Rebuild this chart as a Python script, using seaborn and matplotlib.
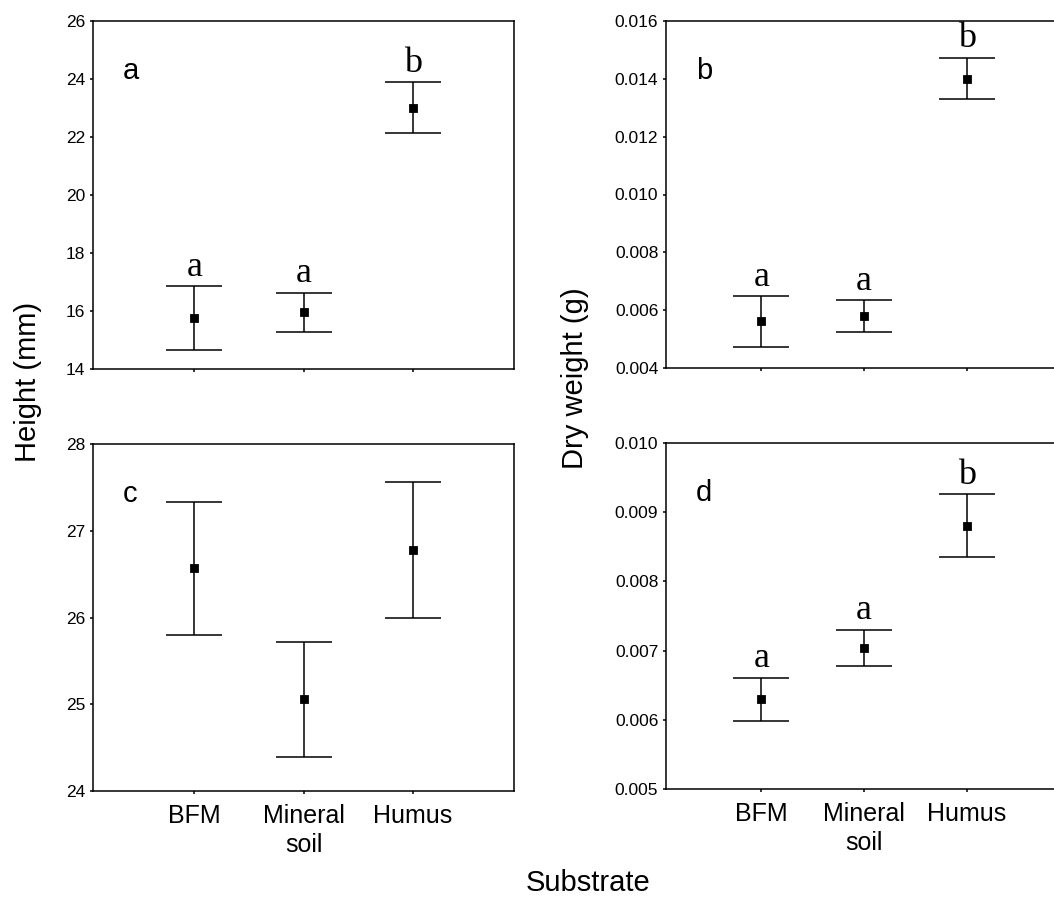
import numpy as np
import pandas as pd
import matplotlib
matplotlib.use("Agg")
import matplotlib.pyplot as plt
import seaborn as sns

# Substrate categories (x axis)
substrates = ["BFM", "Mineral\nsoil", "Humus"]

# Panel a: seedling height (mm), first census
height1_mean = [15.75, 15.96, 23.01]
height1_err = [1.10, 0.67, 0.88]
height1_groups = ["a", "a", "b"]

# Panel b: dry weight (g), first census
weight1_mean = [0.00561, 0.00580, 0.01401]
weight1_err = [0.00088, 0.00055, 0.00072]
weight1_groups = ["a", "a", "b"]

# Panel c: seedling height (mm), second census
height2_mean = [26.565, 25.055, 26.78]
height2_err = [0.765, 0.665, 0.78]
height2_groups = None

# Panel d: dry weight (g), second census
weight2_mean = [0.006295, 0.00704, 0.008805]
weight2_err = [0.000315, 0.00026, 0.000455]
weight2_groups = ["a", "a", "b"]

height1_ticks = [14, 16, 18, 20, 22, 24, 26]
weight1_ticks = [0.004, 0.006, 0.008, 0.010, 0.012, 0.014, 0.016]
height2_ticks = [24, 25, 26, 27, 28]
weight2_ticks = [0.005, 0.006, 0.007, 0.008, 0.009, 0.010]

sns.set_style("ticks")
plt.rcParams["font.family"] = ["Liberation Sans", "DejaVu Sans"]
plt.rcParams["axes.linewidth"] = 1.1
plt.rcParams["xtick.major.width"] = 1.1
plt.rcParams["ytick.major.width"] = 1.1
for key in ["text.color", "axes.labelcolor", "xtick.color", "ytick.color",
            "axes.edgecolor", "xtick.labelcolor", "ytick.labelcolor"]:
    plt.rcParams[key] = "black"

W, H = 1054, 899
fig = plt.figure(figsize=(W / 100, H / 100), dpi=100)


def px_axes(left, top, width, height):
    return fig.add_axes([left / W, 1 - (top + height) / H, width / W, height / H])


panels = [
    dict(pos=(93, 21, 421, 348), mean=height1_mean, err=height1_err,
         groups=height1_groups, ticks=height1_ticks, fmt="{:.0f}", tag="a",
         xlabels=False),
    dict(pos=(666, 21, 396, 347), mean=weight1_mean, err=weight1_err,
         groups=weight1_groups, ticks=weight1_ticks, fmt="{:.3f}", tag="b",
         xlabels=False),
    dict(pos=(93, 444, 421, 347), mean=height2_mean, err=height2_err,
         groups=height2_groups, ticks=height2_ticks, fmt="{:.0f}", tag="c",
         xlabels=True),
    dict(pos=(666, 443, 396, 346), mean=weight2_mean, err=weight2_err,
         groups=weight2_groups, ticks=weight2_ticks, fmt="{:.3f}", tag="d",
         xlabels=True),
]

for p in panels:
    ax = px_axes(*p["pos"])
    df = pd.DataFrame({"substrate": substrates, "mean": p["mean"], "err": p["err"]})
    xs = np.arange(len(substrates))

    ax.errorbar(xs, df["mean"], yerr=df["err"], fmt="none", ecolor="black",
                elinewidth=1.1, capsize=20, capthick=1.1, zorder=2)
    sns.pointplot(data=df, x="substrate", y="mean", order=substrates,
                  errorbar=None, color="black", markers="s", linestyle="none",
                  markersize=5, ax=ax, zorder=3)

    ax.set_xlim(-0.93, 2.93)
    ax.set_ylim(p["ticks"][0], p["ticks"][-1])
    ax.set_yticks(p["ticks"])
    ax.set_yticklabels([p["fmt"].format(t) for t in p["ticks"]], fontsize=12.5)
    ax.set_xticks(xs)
    if p["xlabels"]:
        ax.set_xticklabels(substrates, fontsize=18, linespacing=1.25)
    else:
        ax.set_xticklabels([])
    ax.tick_params(axis="both", direction="out", length=2.5, color="black")
    ax.tick_params(axis="x", pad=7)
    ax.tick_params(axis="y", pad=3)
    ax.set_xlabel("")
    ax.set_ylabel("")
    for side in ["top", "right", "left", "bottom"]:
        ax.spines[side].set_visible(True)
        ax.spines[side].set_color("black")

    # panel tag in the upper-left corner
    wpx = p["pos"][2]
    ax.text(30 / wpx, 0.833, p["tag"], transform=ax.transAxes,
            fontsize=21, ha="left", va="baseline")

    # homogeneous-group letters above the upper caps
    if p["groups"]:
        for x, m, e, g in zip(xs, p["mean"], p["err"], p["groups"]):
            ax.annotate(g, xy=(x, m + e), xytext=(0, 7.5),
                        textcoords="offset points", ha="center", va="baseline",
                        fontsize=26, family=["Liberation Serif", "DejaVu Serif"])

fig.text(28 / W, 1 - 382 / H, "Height (mm)", rotation=90, ha="center",
         va="center", fontsize=21)
fig.text(575 / W, 1 - 378 / H, "Dry weight (g)", rotation=90, ha="center",
         va="center", fontsize=21)
fig.text(588 / W, 1 - 883 / H, "Substrate", ha="center", va="center",
         fontsize=21)

fig.savefig("out.png", dpi=100)
